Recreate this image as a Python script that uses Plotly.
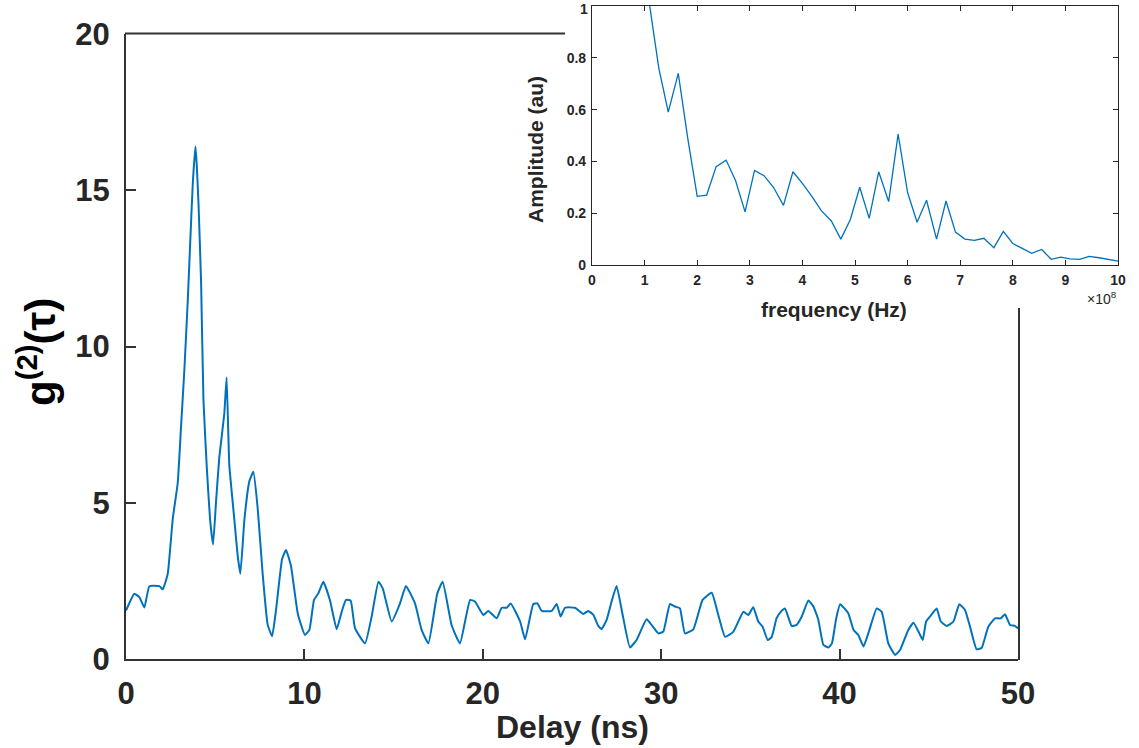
import plotly.graph_objects as go

# Second-order correlation g2(tau) versus delay
delay_ns = [0.00, 0.47, 0.75, 1.03, 1.31, 1.87, 2.06, 2.34, 2.62, 2.90, 3.08, 3.27, 3.46, 3.59,
            3.74, 3.89, 3.96, 4.07, 4.21, 4.34, 4.52, 4.71, 4.88, 5.05, 5.23, 5.51, 5.64, 5.79,
            6.07, 6.26, 6.41, 6.64, 6.92, 7.14, 7.38, 7.66, 7.94, 8.19, 8.41, 8.75, 8.97, 9.25,
            9.63, 10.03, 10.28, 10.54, 10.78, 11.06, 11.43, 11.81, 12.09, 12.33, 12.59, 12.84,
            13.40, 13.77, 14.15, 14.39, 14.89, 15.36, 15.69, 16.20, 16.57, 16.95, 17.45, 17.75,
            18.25, 18.72, 19.29, 19.56, 20.03, 20.31, 20.78, 21.06, 21.34, 21.56, 22.09, 22.37,
            22.83, 23.06, 23.30, 23.86, 24.14, 24.36, 24.61, 25.17, 25.63, 25.91, 26.20, 26.47,
            26.66, 26.94, 27.22, 27.50, 27.84, 28.25, 28.62, 29.18, 29.46, 29.84, 30.12, 30.49,
            30.77, 31.05, 31.33, 31.80, 32.32, 32.83, 33.20, 33.58, 34.04, 34.61, 34.88, 35.16,
            35.44, 35.68, 35.97, 36.19, 36.47, 36.70, 36.94, 37.31, 37.59, 37.88, 38.25, 38.53,
            38.81, 39.09, 39.38, 39.57, 39.81, 40.03, 40.49, 40.78, 41.05, 41.34, 41.67, 42.08,
            42.36, 42.73, 43.11, 43.39, 43.85, 44.14, 44.47, 44.66, 44.85, 45.07, 45.44, 45.67,
            46.00, 46.38, 46.71, 47.03, 47.31, 47.68, 47.96, 48.34, 48.71, 49.03, 49.27, 49.55,
            49.83, 50.00]
g2_values = [1.55, 2.09, 1.98, 1.65, 2.33, 2.33, 2.23, 2.73, 4.48, 5.64, 7.38, 9.24, 11.45, 13.2,
             15.17, 16.4, 15.87, 14.48, 12.03, 8.31, 6.22, 4.48, 3.66, 5.06, 6.45, 7.85, 9.01, 6.22,
             4.48, 3.31, 2.73, 4.48, 5.70, 5.99, 4.83, 2.73, 1.10, 0.73, 1.57, 3.20, 3.49, 2.97,
             1.45, 0.77, 0.93, 1.89, 2.10, 2.47, 1.89, 0.95, 1.51, 1.89, 1.87, 0.98,
             0.50, 1.36, 2.47, 2.26, 1.20, 1.78, 2.34, 1.78, 0.93, 0.50, 2.10, 2.47,
             1.09, 0.50, 1.89, 1.84, 1.41, 1.54, 1.30, 1.64, 1.64, 1.78, 1.20, 0.63,
             1.76, 1.78, 1.54, 1.54, 1.76, 1.36, 1.64, 1.64, 1.44, 1.54, 1.41, 1.06,
             0.96, 1.25, 1.84, 2.34, 1.41, 0.37, 0.61, 1.27, 1.09, 0.82, 0.88, 1.76,
             1.68, 1.62, 0.82, 0.95, 1.89, 2.12, 1.41, 0.71, 0.87, 1.51, 1.41, 1.66,
             1.20, 1.04, 0.61, 0.70, 1.31, 1.51, 1.62, 1.06, 1.09, 1.36, 1.87, 1.68,
             1.25, 0.45, 0.37, 0.50, 1.30, 1.75, 1.46, 0.93, 0.77, 0.40, 0.93, 1.62,
             1.51, 0.50, 0.13, 0.29, 0.93, 1.16, 0.82, 0.61, 1.20, 1.36, 1.62, 1.20,
             1.06, 1.20, 1.75, 1.57, 1.04, 0.31, 0.35, 1.04, 1.30, 1.30, 1.43, 1.09,
             1.06, 0.98]

# Fourier amplitude spectrum (frequency in units of 1e8 Hz)
freq_1e8_hz = [0.91, 1.09, 1.27, 1.45, 1.64, 1.82, 2.00, 2.18, 2.36, 2.55, 2.73, 2.91, 3.09,
               3.27, 3.45, 3.64, 3.82, 4.00, 4.18, 4.36, 4.55, 4.73, 4.91, 5.09, 5.27, 5.45,
               5.64, 5.82, 6.00, 6.18, 6.36, 6.55, 6.73, 6.91, 7.09, 7.27, 7.45, 7.64, 7.82,
               8.00, 8.18, 8.36, 8.55, 8.73, 8.91, 9.09, 9.27, 9.45, 9.64, 9.82, 10.00]
amplitude_au = [1.60, 1.01, 0.76, 0.59, 0.74, 0.49, 0.265, 0.27, 0.38, 0.405, 0.325, 0.205, 0.365,
                0.345, 0.30, 0.23, 0.36, 0.315, 0.265, 0.21, 0.17, 0.10, 0.175, 0.30, 0.18, 0.36,
                0.245, 0.505, 0.28, 0.165, 0.25, 0.10, 0.247, 0.127, 0.10, 0.095, 0.103, 0.067,
                0.13, 0.083, 0.064, 0.045, 0.06, 0.022, 0.03, 0.024, 0.022, 0.033, 0.028, 0.022,
                0.015]

main_xticks = [0, 10, 20, 30, 40, 50]
main_yticks = [0, 5, 10, 15, 20]
inset_xticks = [0, 1, 2, 3, 4, 5, 6, 7, 8, 9, 10]
inset_yticks = [0, 0.2, 0.4, 0.6, 0.8, 1]
inset_ytext = ["0", "0.2", "0.4", "0.6", "0.8", ""]   # top label "1" placed separately
inset_ytop_label = "1"

W, H = 1139, 748
LINE = "#0072BD"
AXC = "#333333"
TXT = "#262626"
FAM = "Liberation Sans, Arial, Helvetica, sans-serif"

def px(x):
    return x / W

def py(y):
    return 1 - y / H

fig = go.Figure()

fig.add_trace(go.Scatter(x=delay_ns, y=g2_values, mode="lines",
                         line=dict(color=LINE, width=2, shape="spline", smoothing=0.4),
                         xaxis="x", yaxis="y", showlegend=False))
fig.add_trace(go.Scatter(x=freq_1e8_hz, y=amplitude_au, mode="lines",
                         line=dict(color=LINE, width=1.3),
                         xaxis="x2", yaxis="y2", showlegend=False))

main_font = dict(family=FAM, size=31, color=TXT, weight="bold")
inset_font = dict(family=FAM, size=14, color=TXT, weight="bold")

fig.update_layout(
    template="none",
    width=W, height=H,
    margin=dict(l=0, r=0, t=0, b=0, autoexpand=False),
    paper_bgcolor="white", plot_bgcolor="white",
    xaxis=dict(domain=[px(126), px(1018)], range=[0, 50], tickvals=main_xticks,
               ticks="inside", ticklen=10, tickwidth=2, tickcolor=AXC,
               showline=True, linecolor=AXC, linewidth=2, mirror=False,
               showgrid=False, zeroline=False, tickfont=main_font,
               ticklabelstandoff=6, anchor="y", automargin=False,
               ticklabeloverflow="allow"),
    yaxis=dict(domain=[py(659), py(34)], range=[0, 20], tickvals=main_yticks,
               ticks="inside", ticklen=10, tickwidth=2, tickcolor=AXC,
               showline=True, linecolor=AXC, linewidth=2, mirror=False,
               showgrid=False, zeroline=False, tickfont=main_font,
               ticklabelstandoff=8, anchor="x", automargin=False,
               ticklabeloverflow="allow"),
    xaxis2=dict(domain=[px(592), px(1118)], range=[0, 10], tickvals=inset_xticks,
                ticks="inside", ticklen=5, tickwidth=1, tickcolor=TXT,
                showline=True, linecolor=TXT, linewidth=1.2, mirror="ticks",
                showgrid=False, zeroline=False, tickfont=inset_font,
                ticklabelstandoff=2, anchor="y2", automargin=False,
                ticklabeloverflow="allow"),
    yaxis2=dict(domain=[py(265), py(6)], range=[0, 1], tickvals=inset_yticks,
                ticktext=inset_ytext, ticks="inside", ticklen=5, tickwidth=1,
                tickcolor=TXT, showline=True, linecolor=TXT, linewidth=1.2,
                mirror="ticks", showgrid=False, zeroline=False, tickfont=inset_font,
                ticklabelstandoff=2, anchor="x2", automargin=False,
                ticklabeloverflow="allow"),
)

# Partial top and right frame of the main axes (the inset sits over the corner)
fig.add_shape(type="line", xref="paper", yref="paper",
              x0=px(125), x1=px(565), y0=py(33.5), y1=py(33.5),
              line=dict(color=AXC, width=2))
fig.add_shape(type="line", xref="paper", yref="paper",
              x0=px(1019), x1=px(1019), y0=py(308), y1=py(660),
              line=dict(color=AXC, width=2))

annotations = [
    dict(text="<b>Delay (ns)</b>", x=px(572), y=py(727), xref="paper", yref="paper",
         showarrow=False, font=dict(family=FAM, size=32, color=TXT),
         xanchor="center", yanchor="middle"),
    dict(text="<b>g<sup>(2)</sup>(τ)</b>", x=px(37), y=py(352), xref="paper", yref="paper",
         showarrow=False, textangle=-90, font=dict(family=FAM, size=42, color="black"),
         xanchor="center", yanchor="middle"),
    dict(text="<b>frequency (Hz)</b>", x=px(834), y=py(309), xref="paper", yref="paper",
         showarrow=False, font=dict(family=FAM, size=21, color=TXT),
         xanchor="center", yanchor="middle"),
    dict(text="<b>Amplitude (au)</b>", x=px(535), y=py(150), xref="paper", yref="paper",
         showarrow=False, textangle=-90, font=dict(family=FAM, size=21, color=TXT),
         xanchor="center", yanchor="middle"),
    dict(text="×10<sup>8</sup>", x=px(1119), y=py(298), xref="paper", yref="paper",
         showarrow=False, font=dict(family=FAM, size=14, color=TXT),
         xanchor="right", yanchor="middle"),
    dict(text=inset_ytop_label, x=px(589), y=1.0, xref="paper", yref="paper",
         showarrow=False, font=inset_font, xanchor="right", yanchor="top",
         borderpad=0),
]
fig.update_layout(annotations=annotations)

fig.write_html("out.html")
